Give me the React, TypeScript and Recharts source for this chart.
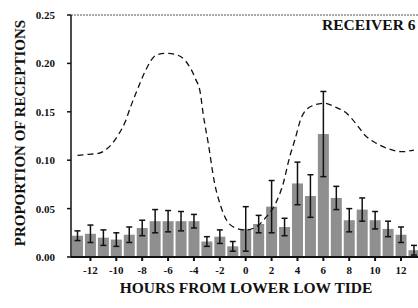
import React from "react";
import { ComposedChart, Bar, Line, XAxis, YAxis, ErrorBar, ReferenceLine } from "recharts";

const hours = [-13, -12, -11, -10, -9, -8, -7, -6, -5, -4, -3, -2, -1, 0, 1, 2, 3, 4, 5, 6, 7, 8, 9, 10, 11, 12, 13];
const proportion = [0.022, 0.024, 0.02, 0.018, 0.023, 0.03, 0.037, 0.037, 0.037, 0.037, 0.016, 0.021, 0.011, 0.029, 0.034, 0.052, 0.031, 0.076, 0.063, 0.127, 0.061, 0.038, 0.049, 0.038, 0.029, 0.023, 0.007];
const stdErr = [0.005, 0.009, 0.008, 0.007, 0.008, 0.008, 0.012, 0.011, 0.01, 0.007, 0.005, 0.007, 0.005, 0.023, 0.009, 0.027, 0.009, 0.022, 0.022, 0.044, 0.012, 0.012, 0.012, 0.009, 0.008, 0.008, 0.005];

const tideHours = [-13, -12.2, -11.4, -10.7, -9.9, -9.3, -8.9, -8.4, -7.8, -6.9, -6.1, -5.3, -4.6, -3.9, -3.5, -3.3, -2.9, -2.4, -2.0, -1.4, -0.7, 0, 0.8, 1.5, 2.3, 2.9, 3.4, 3.8, 4.3, 5.1, 6.1, 6.9, 7.8, 8.6, 9.2, 10.1, 11.0, 12.1, 13.0];
const tideLevel = [0.105, 0.106, 0.107, 0.112, 0.125, 0.14, 0.155, 0.172, 0.191, 0.2087, 0.2104, 0.2087, 0.2017, 0.1846, 0.169, 0.149, 0.118, 0.076, 0.0555, 0.0365, 0.0296, 0.028, 0.031, 0.04, 0.055, 0.076, 0.1036, 0.121, 0.144, 0.156, 0.1588, 0.155, 0.1485, 0.1364, 0.126, 0.1174, 0.112, 0.1088, 0.1105];

const xTicks = [-12, -10, -8, -6, -4, -2, 0, 2, 4, 6, 8, 10, 12];
const yTicks = [0, 0.05, 0.1, 0.15, 0.2, 0.25];

const barData = hours.map((h, i) => ({ h, p: proportion[i], e: stdErr[i] }));
const lineData = tideHours.map((h, i) => ({ h, t: tideLevel[i] }));

const FONT = '"Liberation Serif", "DejaVu Serif", serif';

export default function App() {
  return (
    <div style={{ position: "absolute", left: 0, top: 0, width: 418, height: 308, overflow: "hidden", background: "#fff" }}>
      <ComposedChart width={440} height={308} data={barData} margin={{ top: 15, right: 19.6, bottom: 0, left: 0 }} barCategoryGap={1}>
        <XAxis xAxisId="cat" dataKey="h" type="category" hide height={0} />
        <XAxis
          xAxisId="num"
          dataKey="h"
          type="number"
          domain={[-13.5, 13.5]}
          ticks={xTicks}
          height={51}
          tickSize={4}
          tickMargin={5}
          stroke="#111"
          strokeWidth={2}
          tick={{ fill: "#111", fontSize: 11, fontWeight: "bold", fontFamily: FONT }}
          tickFormatter={(v: number) => (v < 0 ? "-" + Math.abs(v) : String(v))}
        />
        <YAxis
          type="number"
          domain={[0, 0.25]}
          ticks={yTicks}
          width={71}
          tickSize={4}
          tickMargin={12}
          stroke="#111"
          strokeWidth={1.5}
          tick={{ fill: "#111", fontSize: 11, fontWeight: "bold", fontFamily: FONT }}
          tickFormatter={(v: number) => v.toFixed(2)}
        />
        <ReferenceLine xAxisId="num" y={0.25} stroke="#555" strokeDasharray="2 1" strokeWidth={1} />
        <Bar xAxisId="cat" dataKey="p" fill="#8f8f8f" isAnimationActive={false}>
          <ErrorBar dataKey="e" width={3} stroke="#111" strokeWidth={1.5} direction="y" />
        </Bar>
        <Line
          xAxisId="num"
          data={lineData}
          dataKey="t"
          type="monotone"
          stroke="#111"
          strokeWidth={1.3}
          strokeDasharray="6 4"
          dot={false}
          isAnimationActive={false}
        />
      </ComposedChart>
      <div style={{ position: "absolute", left: 246, top: 288, transform: "translate(-50%, -50%)", whiteSpace: "nowrap", fontFamily: FONT, fontWeight: "bold", fontSize: 15.5, color: "#111", lineHeight: 1 }}>
        HOURS FROM LOWER LOW TIDE
      </div>
      <div style={{ position: "absolute", left: 20, top: 133, transform: "translate(-50%, -50%) rotate(-90deg)", whiteSpace: "nowrap", fontFamily: FONT, fontWeight: "bold", fontSize: 15, color: "#111", lineHeight: 1 }}>
        PROPORTION OF RECEPTIONS
      </div>
      <div style={{ position: "absolute", left: 322, top: 17, whiteSpace: "nowrap", fontFamily: FONT, fontWeight: "bold", fontSize: 15.5, color: "#111", lineHeight: 1 }}>
        RECEIVER 6
      </div>
    </div>
  );
}
